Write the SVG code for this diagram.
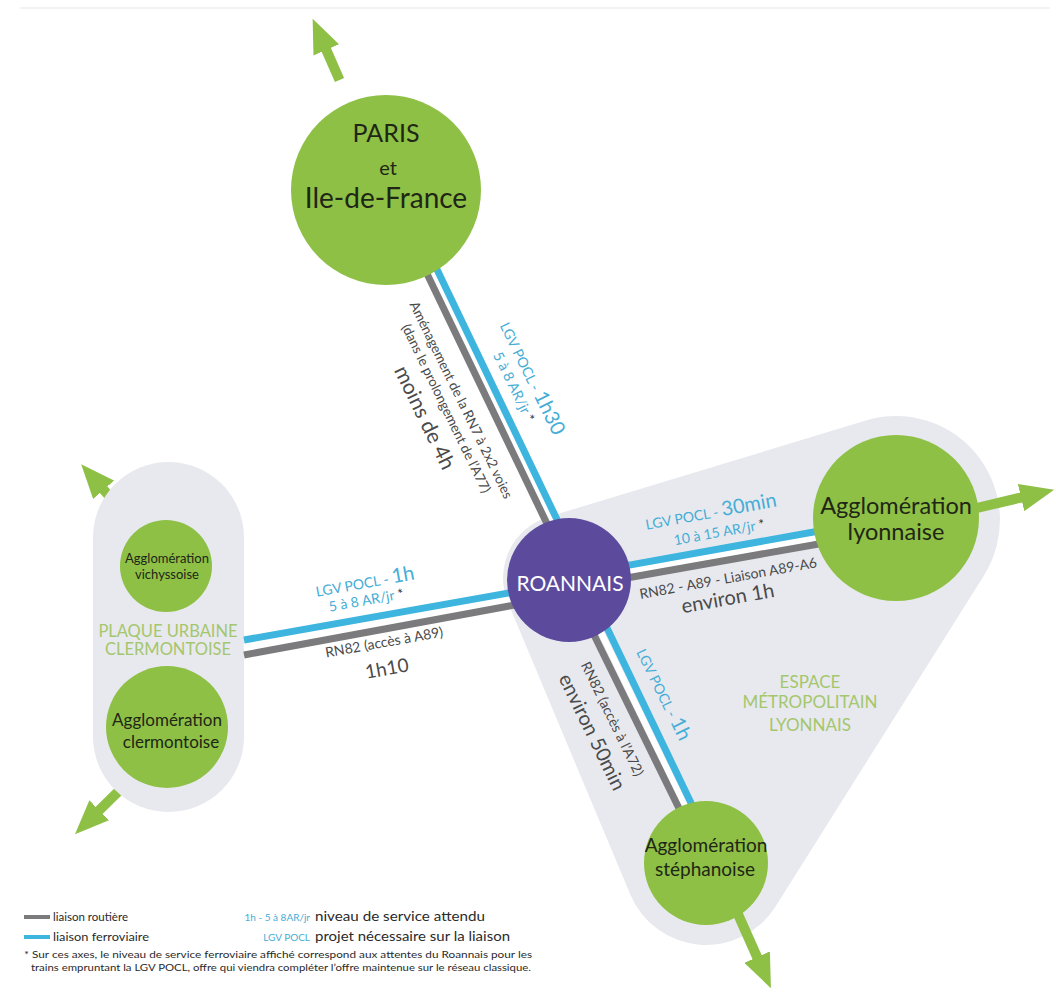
<svg xmlns="http://www.w3.org/2000/svg" width="1056" height="1001" viewBox="0 0 1056 1001">
<defs>
<marker id="ah" viewBox="0 0 34 28" refX="1" refY="14" markerWidth="34" markerHeight="28" markerUnits="userSpaceOnUse" orient="auto"><path d="M0,0 L34,14 L0,28 Z" fill="#8dc045"/></marker>
</defs>
<style>
.bg{fill:#e8e9ee}
.node{fill:#8dc045}
.arrow{stroke:#8dc045;stroke-width:10;fill:none;marker-end:url(#ah)}
.road{stroke:#7b7b7d;stroke-width:7}
.rail{stroke:#3db5de;stroke-width:7}
.gap{stroke:#ffffff;stroke-width:6}
text{font-family:Lato,"Open Sans","DejaVu Sans",sans-serif}
.nt{fill:#1f2616;text-anchor:middle}
.lg{fill:#4a4a4a;text-anchor:middle}
.lb{fill:#45add6;text-anchor:middle}
.zone{fill:#a4c66d;text-anchor:middle;font-size:16.5px}
.leg{fill:#2a2a2a;font-size:12px}
.legb{fill:#45add6;font-size:10px;text-anchor:end}
.star{fill:#333}
</style>
<rect width="1056" height="1001" fill="#ffffff"/>
<line x1="20" y1="8" x2="1050" y2="8" stroke="#eeeeee" stroke-width="1.5"/>

<g id="arrows-west">
<line class="arrow" x1="125" y1="514" x2="103" y2="489"/>
<line class="arrow" x1="130" y1="780" x2="98.5" y2="811"/>
</g>

<g id="zone-clermont">
<rect class="bg" x="93" y="462" width="151" height="350" rx="75.5"/>
<text class="zone" x="168" y="637">PLAQUE URBAINE</text>
<text class="zone" x="168" y="655">CLERMONTOISE</text>
</g>

<g id="zone-lyon">
<path class="bg" d="M548.4 516.8 L865.8 420.5 A104 104 0 0 1 984 575.4 L775.4 906.7 A82 82 0 0 1 630.4 894.7 L508 602.7 A64 64 0 0 1 548.4 516.8 Z"/>
<text class="zone" style="font-size:17px" x="810" y="688">ESPACE</text>
<text class="zone" style="font-size:17px" x="810" y="708">MÉTROPOLITAIN</text>
<text class="zone" style="font-size:17px" x="810" y="731">LYONNAIS</text>
</g>

<g id="arrows-out">
<line class="arrow" x1="339.5" y1="80" x2="325.9" y2="49"/>
<line class="arrow" x1="960" y1="512" x2="1022" y2="497.3"/>
<line class="arrow" x1="725" y1="885" x2="757.5" y2="958"/>
</g>

<g id="connectors">
<g id="link-paris">
<line class="gap" x1="428" y1="263" x2="560" y2="538"/>
<line class="road" x1="422.8" y1="265" x2="554.8" y2="540"/>
<line class="rail" x1="433.4" y1="262" x2="564.4" y2="535"/>
</g>
<g id="link-lyon">
<line class="gap" x1="600" y1="576.5" x2="840" y2="533.7"/>
<line class="rail" x1="600" y1="570.4" x2="840" y2="527.2"/>
<line class="road" x1="600" y1="582.7" x2="840" y2="540.2"/>
</g>
<g id="link-clermont">
<line class="gap" x1="244" y1="647.5" x2="520" y2="597.5"/>
<line class="rail" x1="244" y1="640" x2="520" y2="591"/>
<line class="road" x1="244" y1="655" x2="520" y2="604"/>
</g>
<g id="link-stetienne">
<line class="gap" x1="587.7" y1="605" x2="689.5" y2="815"/>
<line class="road" x1="581.8" y1="610" x2="684.7" y2="820"/>
<line class="rail" x1="593.6" y1="600" x2="694.4" y2="810"/>
</g>
</g>

<g id="labels">
<text class="lg" style="font-size:13.5px" transform="translate(457,402) rotate(64)">Aménagement de la RN7 à 2x2 voies</text>
<text class="lg" style="font-size:13.5px" transform="translate(442,410.5) rotate(64)">(dans le prolongement de l’A77)</text>
<text class="lg" style="font-size:21px" transform="translate(418.3,420.7) rotate(64)">moins de 4h</text>
<text class="lb" style="font-size:14px" transform="translate(526.5,381) rotate(64)">LGV POCL - <tspan style="font-size:20px">1h30</tspan></text>
<text class="lb" style="font-size:14px" transform="translate(509.4,389) rotate(64)">5 à 8 AR/jr <tspan class="star">*</tspan></text>

<text class="lb" style="font-size:14px" transform="translate(712,518) rotate(-10.2)">LGV POCL - <tspan style="font-size:20px">30min</tspan></text>
<text class="lb" style="font-size:14px" transform="translate(720,537) rotate(-10.2)">10 à 15 AR/jr <tspan class="star">*</tspan></text>
<text class="lg" style="font-size:14px" transform="translate(729,583) rotate(-10.2)">RN82 - A89 - Liaison A89-A6</text>
<text class="lg" style="font-size:20px" transform="translate(729,605) rotate(-10.2)">environ 1h</text>

<text class="lb" style="font-size:14px" transform="translate(366,588) rotate(-10.1)">LGV POCL - <tspan style="font-size:20px">1h</tspan></text>
<text class="lb" style="font-size:14px" transform="translate(367,605) rotate(-10.1)">5 à 8 AR/jr <tspan class="star">*</tspan></text>
<text class="lg" style="font-size:14px" transform="translate(385,647) rotate(-10.1)">RN82 (accès à A89)</text>
<text class="lg" style="font-size:19px" transform="translate(388,675) rotate(-10.1)">1h10</text>

<text class="lg" style="font-size:14px" transform="translate(608,721) rotate(64)">RN82 (accès à l’A72)</text>
<text class="lg" style="font-size:20px" transform="translate(586,735) rotate(64)">environ 50min</text>
<text class="lb" style="font-size:14px" transform="translate(658,697) rotate(64)">LGV POCL - <tspan style="font-size:20px">1h</tspan></text>
</g>

<g id="node-paris">
<circle class="node" cx="386" cy="190" r="95"/>
<text class="nt" x="386" y="142" style="font-size:25px">PARIS</text>
<text class="nt" x="388" y="175" style="font-size:20px">et</text>
<text class="nt" x="386" y="208" style="font-size:28px">Ile-de-France</text>
</g>
<g id="node-roannais">
<circle cx="569" cy="580" r="62" fill="#5c4b9d"/>
<text x="570" y="591" style="font-size:21px;fill:#ffffff;text-anchor:middle">ROANNAIS</text>
</g>
<g id="node-lyon">
<circle class="node" cx="896" cy="518" r="83"/>
<text class="nt" x="896" y="514" style="font-size:23.5px">Agglomération</text>
<text class="nt" x="896" y="540" style="font-size:23.5px">lyonnaise</text>
</g>
<g id="node-vichy">
<circle class="node" cx="166" cy="566" r="46"/>
<text class="nt" x="167" y="563" style="font-size:13px">Agglomération</text>
<text class="nt" x="167" y="579" style="font-size:13px">vichyssoise</text>
</g>
<g id="node-clermont">
<circle class="node" cx="167" cy="727" r="61"/>
<text class="nt" x="167" y="726" style="font-size:17px">Agglomération</text>
<text class="nt" x="171" y="748" style="font-size:17px">clermontoise</text>
</g>
<g id="node-stetienne">
<circle class="node" cx="706" cy="863" r="62"/>
<text class="nt" x="706" y="852" style="font-size:19px">Agglomération</text>
<text class="nt" x="705" y="876" style="font-size:19px">stéphanoise</text>
</g>

<g id="legend">
<line x1="24" y1="917" x2="50" y2="917" stroke="#7b7b7d" stroke-width="4"/>
<text class="leg" x="53" y="921" textLength="75" lengthAdjust="spacingAndGlyphs">liaison routière</text>
<line x1="24" y1="937" x2="50" y2="937" stroke="#3db5de" stroke-width="4"/>
<text class="leg" x="53" y="941" textLength="96" lengthAdjust="spacingAndGlyphs">liaison ferroviaire</text>
<text class="legb" x="310" y="921">1h - 5 à 8AR/jr</text>
<text class="leg" style="font-size:13px" x="315" y="921" textLength="170" lengthAdjust="spacingAndGlyphs">niveau de service attendu</text>
<text class="legb" x="310" y="941">LGV POCL</text>
<text class="leg" style="font-size:13px" x="315" y="941" textLength="195" lengthAdjust="spacingAndGlyphs">projet nécessaire sur la liaison</text>
<text class="leg" style="font-size:10px" x="24" y="958" textLength="508" lengthAdjust="spacingAndGlyphs">* Sur ces axes, le niveau de service ferroviaire affiché correspond aux attentes du Roannais pour les</text>
<text class="leg" style="font-size:10px" x="31" y="971" textLength="500" lengthAdjust="spacingAndGlyphs">trains empruntant la LGV POCL, offre qui viendra compléter l’offre maintenue sur le réseau classique.</text>
</g>
</svg>
